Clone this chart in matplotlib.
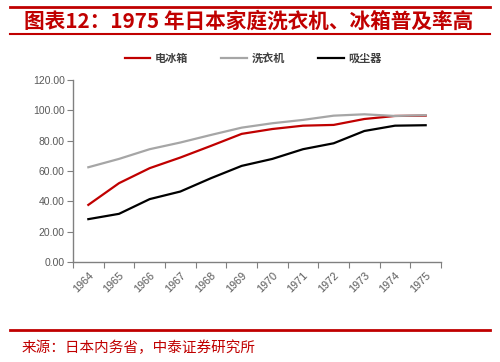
import matplotlib.pyplot as plt
from matplotlib.lines import Line2D

plt.rcParams['font.family'] = ['Noto Sans CJK SC', 'DejaVu Sans']

years = ["1964", "1965", "1966", "1967", "1968", "1969",
         "1970", "1971", "1972", "1973", "1974", "1975"]
fridge = [37.7, 52.0, 61.9, 68.9, 76.6, 84.5, 87.7, 89.9, 90.4, 94.3, 96.3, 96.5]
washer = [62.5, 68.0, 74.4, 78.8, 83.8, 88.6, 91.5, 93.7, 96.5, 97.4, 96.3, 96.8]
vacuum = [28.3, 31.8, 41.5, 46.5, 55.3, 63.4, 68.0, 74.4, 78.3, 86.4, 89.9, 90.2]
names = ["电冰箱", "洗衣机", "吸尘器"]

red = "#C00000"
gray_text = "#595959"

fig = plt.figure(figsize=(5, 3.62), dpi=100)
ax = fig.add_axes([0.146, 0.276, 0.736, 0.503])

x = list(range(len(years)))
ax.plot(x, fridge, color="#C00000", lw=1.6, label=names[0])
ax.plot(x, washer, color="#A6A6A6", lw=1.6, label=names[1])
ax.plot(x, vacuum, color="#000000", lw=1.6, label=names[2])

ax.set_xlim(-0.5, len(years) - 0.5)
ax.set_ylim(0, 120)
ax.set_yticks(range(0, 121, 20))
ax.set_yticklabels(["%.2f" % v for v in range(0, 121, 20)], fontsize=7.5, color=gray_text,
                   family=['Liberation Sans', 'DejaVu Sans'])

# category axis: ticks at boundaries, labels at centers
ax.set_xticks([i - 0.5 for i in range(len(years) + 1)])
ax.set_xticklabels([])
ax.set_xticks(x, minor=True)
ax.set_xticklabels(years, minor=True, rotation=45, fontsize=7.8, color=gray_text,
                   family=['Liberation Sans', 'DejaVu Sans'], ha='right', va='top',
                   rotation_mode='anchor')
ax.tick_params(axis='x', which='minor', length=0, pad=6)
ax.tick_params(axis='x', which='major', length=4, color="#808080", direction='out')
ax.tick_params(axis='y', length=4, color="#808080", direction='out', pad=2)

for s in ["top", "right"]:
    ax.spines[s].set_visible(False)
for s in ["left", "bottom"]:
    ax.spines[s].set_color("#808080")
    ax.spines[s].set_linewidth(1.0)

handles = [Line2D([], [], color=c, lw=1.6) for c in ["#C00000", "#A6A6A6", "#000000"]]
leg = fig.legend(handles, names, loc='center', bbox_to_anchor=(0.506, 1 - 58 / 362), ncol=3,
                 frameon=False, handlelength=2.3, columnspacing=3.0,
                 handletextpad=0.4, prop={'weight': 'bold', 'size': 8})
for t in leg.get_texts():
    t.set_color("#404040")

# header and footer rules
fig.add_artist(Line2D([0.02, 0.98], [1 - 7 / 362, 1 - 7 / 362], color=red, lw=2.0))
fig.add_artist(Line2D([0.02, 0.98], [1 - 34 / 362, 1 - 34 / 362], color=red, lw=1.5))
fig.add_artist(Line2D([0.02, 0.98], [1 - 330 / 362, 1 - 330 / 362], color=red, lw=2.0))

fig.text(0.047, 1 - 21 / 362, "图表12：1975 年日本家庭洗衣机、冰箱普及率高", color=red,
         fontsize=14.9, fontweight='bold', style='italic', va='center', ha='left')
fig.text(0.044, 1 - 348 / 362, "来源：日本内务省，中泰证券研究所", color=red,
         fontsize=10.5, va='center', ha='left')

fig.savefig("out.png", dpi=100)
